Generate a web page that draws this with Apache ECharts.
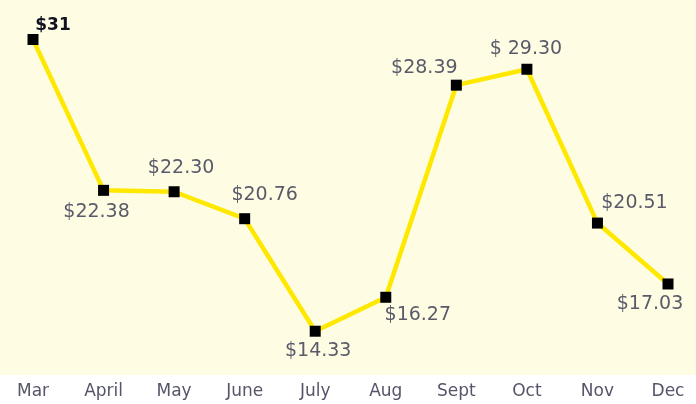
<!DOCTYPE html>
<html>
<head>
<meta charset="utf-8">
<script src="https://cdn.jsdelivr.net/npm/echarts@6/dist/echarts.min.js"></script>
<style>
html, body { margin: 0; padding: 0; background: #ffffff; }
#main { width: 696px; height: 404px; }
</style>
</head>
<body>
<div id="main"></div>
<script>
var months = ['Mar', 'April', 'May', 'June', 'July', 'Aug', 'Sept', 'Oct', 'Nov', 'Dec'];
var prices = [31, 22.38, 22.30, 20.76, 14.33, 16.27, 28.39, 29.30, 20.51, 17.03];
var priceText = ['$31', '$22.38', '$22.30', '$20.76', '$14.33', '$16.27', '$28.39', '$ 29.30', '$20.51', '$17.03'];

// where each label sits relative to its marker
var labelOffsets = [[20, -14], [-7, 22], [7, -24], [20, -24], [3, 20], [32, 18], [-32, -17], [-1, -20], [37, -20], [-18, 20]];

var myChart = echarts.init(document.getElementById('main'));

var seriesData = prices.map(function (v, i) {
    var item = {
        value: v,
        label: {
            show: true,
            position: 'inside',
            offset: labelOffsets[i],
            formatter: priceText[i]
        }
    };
    if (i === 0) {
        item.label.fontFamily = 'DejaVu Sans';
        item.label.fontWeight = 'bold';
        item.label.fontSize = 17;
        item.label.color = '#111122';
    }
    return item;
});

option = {
    animation: false,
    backgroundColor: '#ffffff',
    graphic: [{
        type: 'rect',
        left: 0,
        top: 0,
        shape: { width: 696, height: 375 },
        style: { fill: '#fefde4' },
        z: -10
    }],
    grid: {
        left: 33,
        right: 28,
        top: 22,
        bottom: 32
    },
    xAxis: {
        type: 'category',
        data: months,
        boundaryGap: false,
        axisLine: { show: false },
        axisTick: { show: false },
        axisLabel: {
            margin: 11,
            fontSize: 17,
            fontFamily: 'DejaVu Sans',
            color: '#55556a'
        }
    },
    yAxis: {
        type: 'value',
        min: 12,
        max: 32,
        show: false,
        splitLine: { show: false }
    },
    series: [{
        type: 'line',
        data: seriesData,
        symbol: 'rect',
        symbolSize: 11,
        itemStyle: { color: '#000000' },
        lineStyle: { color: '#ffe800', width: 4.5 },
        label: {
            fontSize: 19,
            fontFamily: 'DejaVu Sans',
            color: '#5a5a6a'
        },
        z: 5
    }]
};
myChart.setOption(option);
</script>
</body>
</html>
